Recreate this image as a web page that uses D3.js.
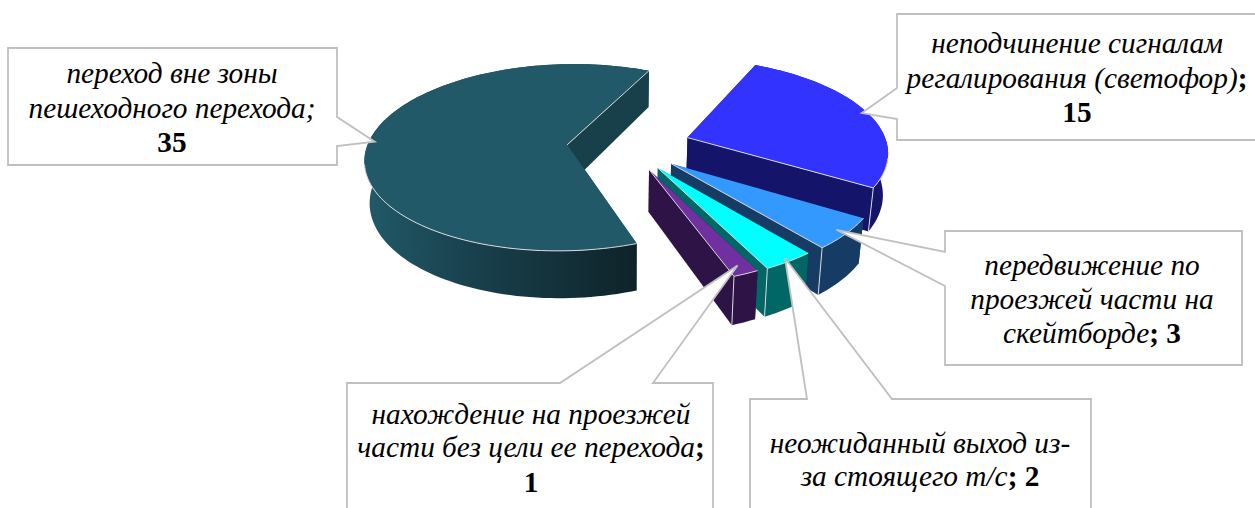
<!DOCTYPE html>
<html>
<head>
<meta charset="utf-8">
<script src="https://cdn.jsdelivr.net/npm/d3@7"></script>
<style>
  html, body { margin: 0; padding: 0; background: #fff; overflow: hidden; }
  svg { display: block; }
</style>
</head>
<body>
<svg id="chart" width="1255" height="508"></svg>
<script>
const categories = [
  "переход вне зоны пешеходного перехода",
  "неподчинение сигналам регалирования (светофор)",
  "передвижение по проезжей части на скейтборде",
  "неожиданный выход из-за стоящего т/с",
  "нахождение на проезжей части без цели ее перехода"
];
const values = [35, 15, 3, 2, 1];

// label text line by line, "*" marks the bold runs
const labelLines = [
  ["переход вне зоны", "пешеходного перехода;", "*35"],
  ["неподчинение сигналам", "регалирования (светофор)*;", "*15"],
  ["передвижение по", "проезжей части на", "скейтборде*; 3"],
  ["нахождение на проезжей", "части без цели ее перехода*;", "*1"],
  ["неожиданный выход из-", "за стоящего т/с*; 2"]
];

const topColors = ["#215968", "#3333ff", "#3399ff", "#00ffff", "#7030a0"];
const wallColors = ["#17404a", "#14146b", "#163c66", "#006666", "#2e1446"];
const explodes = [60, 64, 57, 55, 54];

const width = 1255, height = 508;
const cx = 627, cy = 146;
const radius = 200, squash = 0.46, persp = 0.00068, depth = 41;
const startDeg = 160;

const svg = d3.select("#chart");
const defs = svg.append("defs");

const grad = defs.append("linearGradient")
  .attr("id", "tealWall")
  .attr("gradientUnits", "userSpaceOnUse")
  .attr("x1", 370).attr("x2", 636).attr("y1", 0).attr("y2", 0);
grad.append("stop").attr("offset", "0").attr("stop-color", "#215968");
grad.append("stop").attr("offset", "0.3").attr("stop-color", "#1a4552");
grad.append("stop").attr("offset", "1").attr("stop-color", "#0e2329");

const pie = d3.pie().sort(null)
  .startAngle(startDeg * Math.PI / 180)
  .endAngle(startDeg * Math.PI / 180 + 2 * Math.PI);
const arcs = pie(values);

// world point on the pie plane -> screen, z = 0 top face, z = 1 bottom face
function project(X, Y, z) {
  const f = 1 / (1 - persp * Y);
  return [cx + X * f * (1 - 0.02 * z), cy + Y * squash * f + z * depth * f];
}

function slicePoint(d, angle, r, z) {
  const mid = (d.startAngle + d.endAngle) / 2;
  const e = explodes[d.index];
  const X = e * Math.sin(mid) + r * Math.sin(angle);
  const Y = -e * Math.cos(mid) - r * Math.cos(angle);
  return project(X, Y, z);
}

function arcAngles(d) {
  const n = Math.max(4, Math.ceil((d.endAngle - d.startAngle) / 0.03));
  return d3.range(n + 1).map(i => d.startAngle + (d.endAngle - d.startAngle) * i / n);
}

const line = d3.line();
const poly = pts => line(pts) + "Z";

function flatWall(g, d, a, fill) {
  g.append("path")
    .attr("d", poly([
      slicePoint(d, a, 0, 0), slicePoint(d, a, radius, 0),
      slicePoint(d, a, radius, 1), slicePoint(d, a, 0, 1)
    ]))
    .attr("fill", fill);
}

function highlight(g, pts) {
  g.append("path")
    .attr("d", line(pts))
    .attr("fill", "none")
    .attr("stroke", "#d9d9d9")
    .attr("stroke-width", 1)
    .attr("stroke-linejoin", "round");
}

const slices = svg.append("g").selectAll("g")
  .data(arcs)
  .enter().append("g");

slices.each(function (d, i) {
  const g = d3.select(this);
  const wall = wallColors[i];

  flatWall(g, d, d.startAngle, wall);

  // rim
  const angles = arcAngles(d);
  const rimTop = angles.map(a => slicePoint(d, a, radius, 0));
  const rimBottom = angles.map(a => slicePoint(d, a, radius, 1)).reverse();
  g.append("path")
    .attr("d", poly(rimTop.concat(rimBottom)))
    .attr("fill", i === 0 ? "url(#tealWall)" : wall);

  flatWall(g, d, d.endAngle, wall);

  // light corner where the rim meets the front wall
  if (i > 0) {
    highlight(g, [slicePoint(d, d.endAngle, radius, 0), slicePoint(d, d.endAngle, radius, 1)]);
  }

  // top face
  const apex = slicePoint(d, d.startAngle, 0, 0);
  g.append("path")
    .attr("d", poly([apex].concat(rimTop)))
    .attr("fill", topColors[i]);

  // only the edges that face the viewer catch the light
  highlight(g, [apex, slicePoint(d, d.endAngle, radius, 0)]);
  highlight(g, angles.filter(a => Math.cos(a) < -0.2).map(a => slicePoint(d, a, radius, 0)));
});

// callouts: box edges, side the pointer leaves from and its base
const callouts = [
  { slice: 0, tipAngle: 272, tipR: 0.97, box: [8, 48, 337, 165], side: "right", base: [117, 146], textX: 172, lines: [83, 118, 152], label: 0 },
  { slice: 1, tipAngle: 73, tipR: 0.97, box: [897, 14, 1262, 140], side: "left", base: [88, 119], textX: 1077, lines: [53, 88, 122], label: 1 },
  { slice: 2, tipAngle: 131, tipR: 0.95, box: [945, 231, 1242, 365], side: "left", base: [252, 286], textX: 1092, lines: [275, 309, 343], label: 2 },
  { slice: 4, tipAngle: 157, tipR: 0.93, box: [347, 383, 713, 560], side: "top", base: [560, 653], textX: 531, lines: [424, 457, 492], label: 3 },
  { slice: 3, tipAngle: 147, tipR: 0.97, box: [750, 399, 1091, 560], side: "top", base: [807, 892], textX: 920, lines: [453, 486], label: 4 }
];

callouts.forEach(c => {
  const d = arcs[c.slice];
  const tip = slicePoint(d, c.tipAngle * Math.PI / 180, radius * c.tipR, 0);
  const [x0, y0, x1, y1] = c.box;
  let pts;
  if (c.side === "right") {
    pts = [[x0, y0], [x1, y0], [x1, c.base[0]], tip, [x1, c.base[1]], [x1, y1], [x0, y1]];
  } else if (c.side === "left") {
    pts = [[x0, y0], [x1, y0], [x1, y1], [x0, y1], [x0, c.base[1]], tip, [x0, c.base[0]]];
  } else {
    pts = [[x0, y0], [c.base[0], y0], tip, [c.base[1], y0], [x1, y0], [x1, y1], [x0, y1]];
  }
  svg.append("path")
    .attr("d", poly(pts))
    .attr("fill", "#fff")
    .attr("stroke", "#bfbfbf")
    .attr("stroke-width", 1.8);

  labelLines[c.label].forEach((txt, i) => {
    const text = svg.append("text")
      .attr("x", c.textX)
      .attr("y", c.lines[i])
      .attr("text-anchor", "middle")
      .attr("font-family", "'Liberation Serif', 'Times New Roman', serif")
      .attr("font-size", 29.3)
      .attr("fill", "#000");
    txt.split("*").forEach((part, j) => {
      if (!part) return;
      text.append("tspan")
        .attr("font-style", j === 0 ? "italic" : "normal")
        .attr("font-weight", j === 0 ? "normal" : "bold")
        .text(part);
    });
  });
});
</script>
</body>
</html>
